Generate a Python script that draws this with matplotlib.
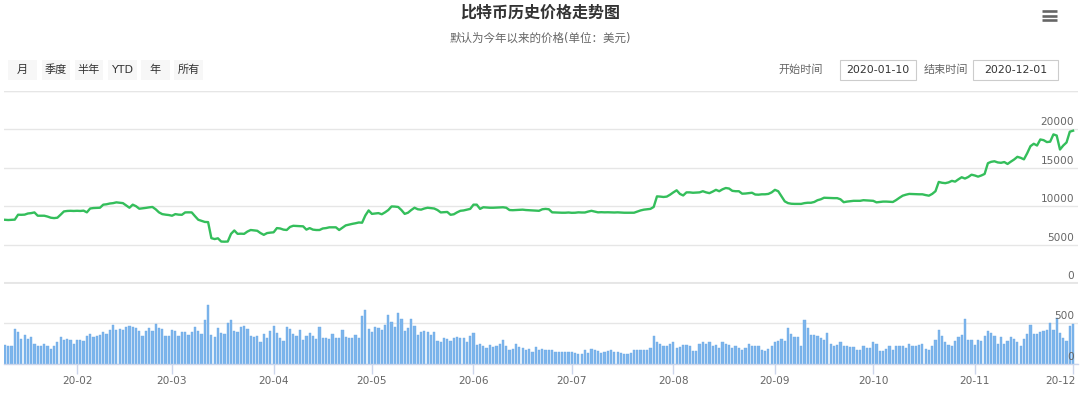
import matplotlib
matplotlib.use('Agg')
import matplotlib.pyplot as plt
import matplotlib.dates as mdates
import matplotlib.transforms as mtransforms
from matplotlib.patches import Rectangle
from matplotlib.lines import Line2D
import pandas as pd

plt.rcParams['font.family'] = ['DejaVu Sans', 'Noto Sans CJK SC']

# ============ 数据 ============
title = '比特币历史价格走势图'
subtitle = '默认为今年以来的价格(单位：美元)'
range_buttons = ['月', '季度', '半年', 'YTD', '年', '所有']
start_label, end_label = '开始时间', '结束时间'
start_date = '2020-01-10'
end_date = '2020-12-01'

# 每日价格（美元）
price = [
    8230, 8200, 8230, 8250, 8890, 8880, 8900, 9050, 9100, 9190,
    8760, 8760, 8760, 8650, 8500, 8450, 8500, 8900, 9320, 9380,
    9400, 9380, 9400, 9380, 9420, 9200, 9700, 9760, 9780, 9800,
    10200, 10250, 10350, 10400, 10500, 10450, 10400, 10100, 9800, 10200,
    10000, 9670, 9720, 9780, 9850, 9900, 9600, 9200, 8970, 8900,
    8850, 8760, 8970, 8900, 8880, 9190, 9200, 9190, 8700, 8235,
    8100, 7950, 7930, 5840, 5720, 5820, 5400, 5380, 5400, 6400,
    6840, 6400, 6420, 6400, 6700, 6900, 6850, 6800, 6500, 6270,
    6500, 6560, 6600, 7150, 7100, 6950, 6900, 7300, 7450, 7420,
    7400, 7380, 6950, 7150, 6950, 6900, 6900, 7100, 7150, 7250,
    7250, 7250, 6900, 7200, 7500, 7600, 7700, 7780, 7880, 7850,
    8800, 9450, 9000, 9050, 9100, 8950, 9200, 9500, 9970, 9950,
    9900, 9500, 9000, 9150, 9500, 9800, 9600, 9550, 9700, 9800,
    9750, 9700, 9500, 9190, 9220, 9250, 8880, 8950, 9200, 9400,
    9450, 9550, 9650, 10200, 10200, 9650, 9860, 9830, 9800, 9800,
    9820, 9850, 9860, 9800, 9500, 9480, 9500, 9520, 9550, 9500,
    9480, 9450, 9420, 9400, 9600, 9650, 9600, 9200, 9180, 9150,
    9150, 9150, 9180, 9140, 9150, 9200, 9180, 9180, 9300, 9400,
    9300, 9200, 9220, 9200, 9210, 9200, 9180, 9200, 9170, 9150,
    9150, 9160, 9150, 9300, 9450, 9550, 9600, 9650, 9900, 11280,
    11250, 11200, 11250, 11500, 11800, 12070, 11600, 11400, 11800, 11800,
    11750, 11780, 11800, 11950, 11800, 11700, 11900, 12130, 11950, 12200,
    12370, 12300, 12000, 11950, 11950, 11630, 11650, 11700, 11750, 11520,
    11500, 11550, 11550, 11600, 11800, 12130, 11950, 11300, 10630, 10400,
    10320, 10300, 10300, 10300, 10400, 10450, 10450, 10550, 10780, 10900,
    11100, 11080, 11050, 11050, 11050, 10900, 10520, 10600, 10650, 10700,
    10700, 10700, 10780, 10750, 10720, 10700, 10500, 10550, 10600, 10600,
    10580, 10550, 10800, 11100, 11370, 11500, 11600, 11580, 11550, 11550,
    11550, 11450, 11370, 11600, 11950, 13160, 13050, 13000, 13100, 13300,
    13200, 13500, 13770, 13600, 13800, 14100, 14000, 13850, 14000, 14200,
    15600, 15780, 15850, 15700, 15650, 15750, 15500, 15800, 16080, 16430,
    16300, 16100, 16900, 17820, 18130, 17900, 18690, 18600, 18350, 18400,
    19350, 19200, 17380, 17900, 18300, 19700, 19830,
]

# 每日成交量
volume = [
    236, 215, 215, 427, 386, 305, 350, 305, 330, 248,
    224, 215, 248, 224, 183, 215, 272, 330, 297, 305,
    289, 248, 297, 297, 285, 337, 366, 330, 337, 354,
    386, 366, 419, 480, 419, 431, 419, 447, 467, 451,
    439, 398, 346, 398, 439, 407, 488, 439, 427, 337,
    337, 419, 407, 337, 386, 390, 358, 386, 451, 407,
    370, 533, 724, 354, 330, 439, 378, 366, 500, 533,
    407, 386, 451, 467, 427, 337, 330, 337, 272, 366,
    317, 398, 467, 378, 317, 285, 451, 431, 366, 337,
    419, 297, 337, 378, 337, 305, 451, 317, 317, 305,
    366, 317, 317, 419, 330, 317, 317, 350,
    317, 590, 654, 427, 386, 451, 439, 419, 476, 602,
    508, 451, 622, 553, 407, 439, 549, 467, 354, 386,
    407, 386, 358, 386, 285, 264, 317, 305, 285, 317,
    330, 317, 317, 264, 337, 378, 236, 248, 224, 195,
    236, 203, 224, 248, 297, 215, 167, 183, 248, 203,
    195, 175, 183, 142, 207, 167, 183, 175, 167, 167,
    142, 150, 150, 150, 150, 150, 134, 118, 118, 175, 134,
    183, 175, 163, 134, 142, 163, 175, 150, 150, 134,
    118, 118, 134, 175, 167, 175, 167, 167, 195, 337,
    272, 244, 215, 215, 248, 264, 195, 207, 228, 228,
    220, 163, 163, 248, 264, 244, 264, 224, 232,
    195, 272, 248, 236, 195, 224, 195, 171, 195, 248,
    215, 215, 215, 171, 163, 183, 215, 264, 276, 305, 285,
    439, 366, 330, 325, 224, 533, 439, 354, 354, 346,
    317, 297, 378, 248, 215, 236, 272, 224, 215, 207,
    207, 171, 171, 215, 195, 195, 264, 244, 163, 163,
    187, 215, 175, 215, 215, 215, 191, 248, 224, 224,
    236, 248, 183, 171, 224, 297, 419, 337, 272, 236,
    224, 285, 325, 358, 553, 297, 297, 236, 297, 285,
    337, 398, 378, 337, 248, 325, 248, 285, 325, 305,
    264, 224, 305, 370, 480, 366, 366, 386, 398, 419,
    500, 419, 561, 378, 317, 285, 459, 492,
]

price_ticks = [0, 5000, 10000, 15000, 20000, 25000]
price_labels = ['0', '5000', '10000', '15000', '20000']
volume_ticks = [0, 500, 1000]
volume_labels = ['0', '500']

dates_p = pd.date_range(start_date, periods=len(price), freq='D')
dates_v = pd.date_range(start_date, periods=len(volume), freq='D')

# ============ 画布（像素坐标，左上为原点） ============
W, H = 1080, 395
fig = plt.figure(figsize=(W / 100, H / 100), dpi=100)


def px_box(x0, y0, x1, y1):
    return [x0 / W, 1 - y1 / H, (x1 - x0) / W, (y1 - y0) / H]


def fx(x):
    return x / W


def fy(y):
    return 1 - y / H


grid_color = '#e6e6e6'
label_color = '#666666'
axis_color = '#ccd6eb'

ax_p = fig.add_axes(px_box(4, 91, 1078, 283))
ax_v = fig.add_axes(px_box(4, 282, 1078, 364), sharex=ax_p)
for ax in (ax_p, ax_v):
    ax.set_facecolor('none')
    for s in ax.spines.values():
        s.set_visible(False)

# 价格走势
ax_p.plot(dates_p, price, color='#34be5b', lw=1.7, zorder=3, solid_joinstyle='round')
ax_p.set_ylim(0, 25000)
ax_p.set_yticks(price_ticks)
ax_p.grid(axis='y', color=grid_color, lw=1)
ax_p.axhline(0, color=grid_color, lw=2.2, zorder=1)
ax_p.axhline(25000, color=grid_color, lw=1.6, zorder=1)
ax_p.tick_params(axis='both', length=0, labelleft=False, labelbottom=False)

tr_p = mtransforms.offset_copy(
    mtransforms.blended_transform_factory(ax_p.transAxes, ax_p.transData),
    fig=fig, x=-4, y=2, units='dots')
for v, lab in zip(price_ticks, price_labels):
    ax_p.text(1, v, lab, transform=tr_p, ha='right', va='bottom',
              fontsize=7.6, color=label_color, zorder=5)

# 成交量
ax_v.bar(dates_v, volume, width=0.68, color='#7cb5ec', edgecolor='#6ea9e6',
         linewidth=0.3, zorder=2)
ax_v.set_ylim(0, 1000)
ax_v.set_yticks(volume_ticks)
ax_v.grid(axis='y', color=grid_color, lw=1, zorder=0)
ax_v.axhline(1000, color=grid_color, lw=2.0, zorder=1)
ax_v.spines['bottom'].set_visible(True)
ax_v.spines['bottom'].set_color(axis_color)
ax_v.spines['bottom'].set_linewidth(1)
ax_v.tick_params(axis='y', length=0, labelleft=False)
ax_v.tick_params(axis='x', length=7, width=1, color=axis_color,
                 labelsize=7.6, labelcolor=label_color, pad=2)
ax_v.xaxis.set_major_locator(mdates.MonthLocator())
ax_v.xaxis.set_major_formatter(mdates.DateFormatter('%y-%m'))

tr_v = mtransforms.offset_copy(
    mtransforms.blended_transform_factory(ax_v.transAxes, ax_v.transData),
    fig=fig, x=-4, y=2, units='dots')
for v, lab in zip(volume_ticks, volume_labels):
    ax_v.text(1, v, lab, transform=tr_v, ha='right', va='bottom',
              fontsize=7.6, color=label_color, zorder=5)

ax_p.set_xlim(dates_p[0] - pd.Timedelta(hours=7), dates_p[0] + pd.Timedelta(days=327.5))

# 最后一个刻度标签向左收进，避免超出画布
fig.canvas.draw()
ax_v.get_xticklabels()[-1].set_horizontalalignment('right')
ax_v.get_xticklabels()[-1].set_transform(
    ax_v.get_xticklabels()[-1].get_transform()
    + mtransforms.ScaledTranslation(3 / 100, 0, fig.dpi_scale_trans))

# ============ 标题 ============
fig.text(0.5, fy(13), title, ha='center', va='center', fontsize=11.5,
         fontweight='bold', color='#333333')
fig.text(0.5, fy(38), subtitle, ha='center', va='center', fontsize=8.3,
         color=label_color)

# 菜单图标
for y in (11, 15.5, 20):
    fig.add_artist(Line2D([fx(1042), fx(1057)], [fy(y), fy(y)], lw=1.9,
                          color=label_color, solid_capstyle='butt'))

# 范围选择按钮
button_x = [(8, 37), (42, 70), (75, 103), (108, 137), (141, 170), (174, 203)]
for (x0, x1), lab in zip(button_x, range_buttons):
    fig.add_artist(Rectangle((fx(x0), fy(80)), (x1 - x0) / W, 20 / H,
                             transform=fig.transFigure, facecolor='#f7f7f7',
                             edgecolor='none'))
    fig.text(fx((x0 + x1) / 2), fy(70), lab, ha='center', va='center',
             fontsize=8, color='#333333')

# 日期输入框
fig.text(fx(823), fy(70), start_label, ha='right', va='center', fontsize=8,
         color=label_color)
fig.text(fx(968), fy(70), end_label, ha='right', va='center', fontsize=8,
         color=label_color)
for (x0, x1), lab in zip([(840, 916), (989 - 16, 1058)], [start_date, end_date]):
    fig.add_artist(Rectangle((fx(x0), fy(80)), (x1 - x0) / W, 20 / H,
                             transform=fig.transFigure, facecolor='white',
                             edgecolor='#cccccc', lw=0.8))
    fig.text(fx((x0 + x1) / 2), fy(70), lab, ha='center', va='center',
             fontsize=7.8, color='#333333')

fig.savefig('out.png', dpi=100, facecolor='white')
